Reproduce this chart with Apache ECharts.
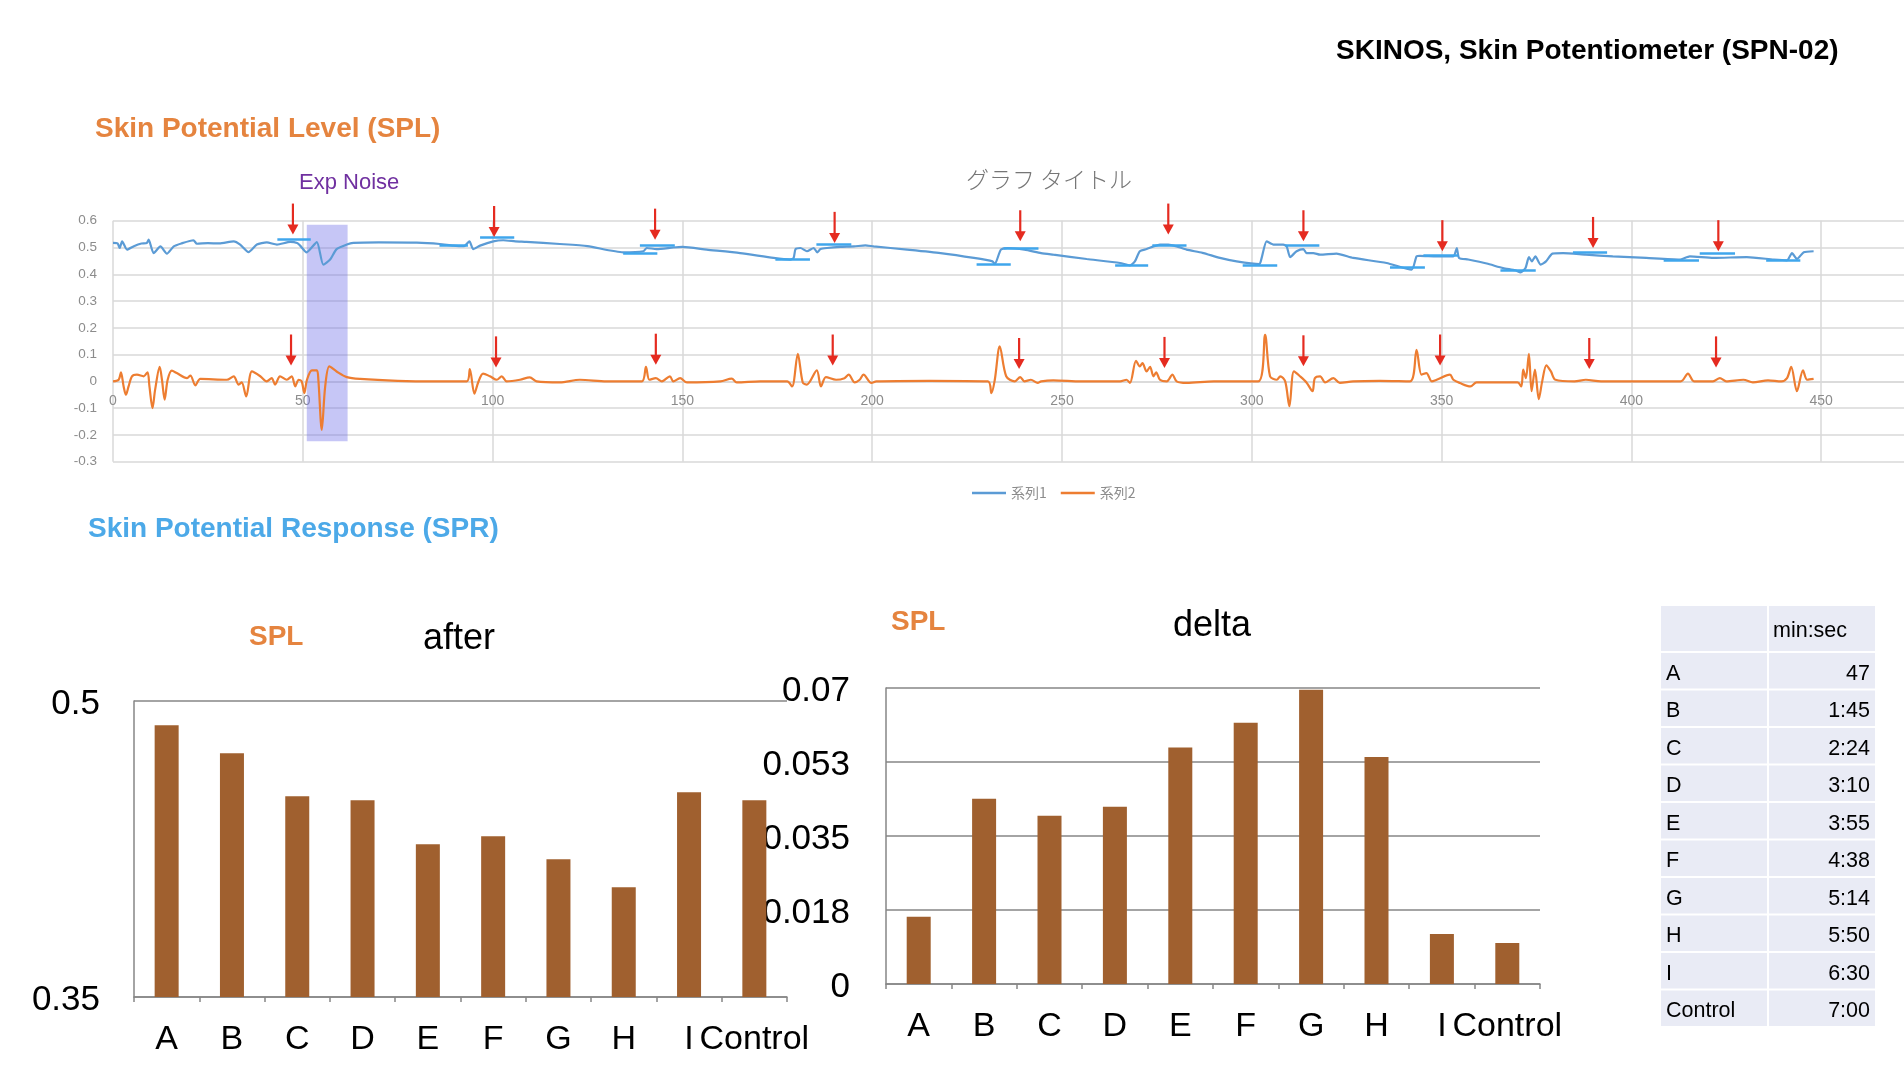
<!DOCTYPE html>
<html><head><meta charset="utf-8">
<script src="https://cdn.jsdelivr.net/npm/echarts@6/dist/echarts.min.js"></script>
<style>html,body{margin:0;padding:0;background:#fff}#c{width:1904px;height:1066px}</style>
</head><body><div id="c"></div>
<script>
// ---- Line chart data: [seconds, value] ----
const splSeries = [[0,0.517],[1.2,0.515],[1.75,0.498],[2.4,0.523],[3.7,0.492],[5.5,0.505],[7.5,0.515],[8.9,0.517],[9.4,0.529],[10.7,0.479],[12.5,0.504],[14.2,0.477],[16,0.504],[18,0.515],[21.2,0.527],[22.1,0.514],[25,0.516],[28,0.515],[31.8,0.523],[33.5,0.511],[35.7,0.483],[37.9,0.511],[40.5,0.519],[43.2,0.511],[46.7,0.521],[48.5,0.517],[49.3,0.507],[51,0.482],[53.7,0.52],[55.4,0.436],[57.2,0.455],[58.9,0.494],[61.6,0.511],[63.3,0.517],[70,0.519],[80,0.518],[86.1,0.513],[89.6,0.507],[92.5,0.505],[93.9,0.523],[94.9,0.494],[96.7,0.507],[100.2,0.523],[102.8,0.527],[106,0.523],[108.9,0.521],[117.7,0.513],
[125,0.505],[134.4,0.482],[139.7,0.486],[140.6,0.498],[143.2,0.494],[147.6,0.5],[150,0.502],[156.4,0.492],[165.2,0.479],[174,0.461],[178.4,0.455],[179.3,0.461],[179.8,0.494],[181.1,0.498],[182.8,0.486],[184.6,0.498],[185.5,0.482],[186.4,0.494],[188.1,0.498],[191.6,0.502],[195.2,0.504],[198.2,0.508],[200.4,0.504],[209.2,0.492],[218,0.479],[226.8,0.461],[231.7,0.448],[232.3,0.438],[233.9,0.492],[235.7,0.498],[240.1,0.492],[244.5,0.479],
[247.7,0.473],[256.5,0.457],[265.3,0.442],[267.9,0.433],[269.2,0.448],[270.5,0.486],[272.3,0.494],[274.1,0.504],[275.8,0.511],[278,0.511],[280.2,0.504],[282.8,0.492],[287,0.48],[291.6,0.461],[296,0.448],[302,0.438],[302.6,0.461],[303.9,0.523],[305.7,0.511],[308.3,0.511],[309.2,0.504],[310.1,0.464],[311.8,0.486],[313.6,0.494],[314.4,0.479],[316.2,0.479],[318,0.473],[322.3,0.477],[326.7,0.461],[335.5,0.442],[342.1,0.417],[343.4,0.467],[344.3,0.469],[348.7,0.467],[353.1,0.467],[354,0.498],[354.6,0.461],[357,0.455],[361.9,0.44],[366.2,0.423],
[369.4,0.415],[370.8,0.407],[372.1,0.423],[373,0.464],[373.8,0.448],[374.7,0.467],[376.1,0.436],[377.5,0.448],[379.2,0.477],[382,0.479],[388,0.473],[395.1,0.467],[403.9,0.461],[412.7,0.455],[415.4,0.467],[421.6,0.461],[430.4,0.464],[437.5,0.455],[441,0.452],[442.3,0.479],[443.6,0.457],[445.4,0.482],[448,0.486]];

const sprSeries = [[0,0],[1.5,0.006],[2.1,0.034],[2.8,-0.019],[3.4,-0.05],[4.1,-0.019],[5,0.019],[6.3,0.025],[8.1,0.019],[9.1,0.034],[9.6,-0.019],[10.4,-0.1],[11.1,-0.031],[12.3,0.054],[12.9,0.006],[13.6,-0.068],[14.4,0.006],[15.5,0.04],[16.8,0.031],[19.5,0.012],[20.4,0.022],[21.7,-0.015],[23,0.009],[30,0.006],[31.8,0.019],[33.1,-0.012],[33.9,-0.004],[35.1,-0.056],[36.6,0.037],[38.8,0.019],[40.5,0],[41.8,0.012],[42.7,-0.012],[44,0.019],[45.8,0.006],[47.1,0.019],[48,-0.019],[48.9,0.006],[49.7,0],[50.4,-0.044],[51.1,0.006],[52.4,0.041],[53.7,0.041],[54.1,0.006],[55,-0.181],[55.9,-0.019],[57,0.056],[58.9,0.037],[61.6,0.016],[65.1,0.009],[75,0.002],[85,0],[93.2,0],[94,0.046],[95.2,-0.046],[96.2,-0.004],[97.5,0.029],[99.3,0.019],[101.1,0.006],[102.4,0.019],[103.7,0],[107.2,0.006],[109.8,0.015],[111.6,0],[117.7,-0.004],
[123,0.006],[130,0],[139.3,0],[140.4,0.054],[141.3,0.006],[143,0.012],[144.6,0],[146.7,0.019],[147.6,0],[149.4,0.012],[151.2,-0.004],[160,0],[163,0.01],[164.3,-0.004],[170.5,0],[177.6,0],[178.9,-0.019],[180.4,0.103],[181.7,-0.004],[182.8,-0.012],[185.4,0.041],[186.5,-0.019],[187.8,0.016],[190.5,0.006],[192.7,0.012],[193.8,0.025],[195.4,-0.004],[196.7,0.006],[197.7,0.025],[199.8,-0.006],[201.1,0],[215,0.002],[230.5,0],[231.4,-0.044],[232.3,0.006],[233.6,0.131],[235.3,0.019],[237.5,0],[239,0.016],[240.1,0],[241.8,0.006],[243.6,-0.006],[244.5,0],
[247.7,0.004],[255,0],[265.3,0],[267,0.006],[267.9,-0.006],[269.5,0.077],[270.5,0.056],[271.2,0.068],[272.3,0.037],[273.2,0.054],[274.1,0.019],[274.8,0.034],[275.8,0.006],[277.6,0],[279.1,0.025],[280.2,0],[282.8,-0.006],[290,0],[301.7,0],[303.5,0.174],[304.8,0.019],[306.6,0.006],[307.5,0.019],[308.8,0],[309.9,-0.093],[311.1,0.037],[312.7,0.019],[314.4,-0.004],[316,-0.037],[316.6,0.012],[318,0.019],[319.3,-0.004],[321.5,0.012],[323.2,-0.006],[326.7,0],[333.7,0.002],[341.7,0],[343.4,0.118],[344.7,0.025],[346,0.031],[347.4,0],[348.7,0.006],[352.2,0.025],[353.1,0.006],[354.8,-0.006],[357.6,-0.019],[359.2,-0.004],
[370,-0.004],[371,-0.019],[371.5,0.044],[372.2,0.012],[373,0.103],[373.7,-0.037],[374.6,0.044],[375.6,-0.066],[376.5,0],[377.6,0.06],[378.8,0.037],[380,0.006],[385,0],[388,0.006],[392,0],[403.9,0],[413,0],[414.9,0.029],[416.5,0],[421.5,0],[423.3,0.012],[425,0],[429.5,0.006],[432,-0.004],[436,0.004],[439.5,0],[441,0.012],[442.1,0.054],[443.6,-0.037],[445.2,0.041],[446.3,0.006],[448,0.009]];

// annotation data (seconds / values)
const noiseBox = [51.05, 61.8, 0.585, -0.224];
const arrowTopT = [47.4,100.4,142.8,190.1,239,278,313.6,350.2,389.9,422.9];
const arrowTopTip = [0.548,0.539,0.529,0.517,0.523,0.548,0.523,0.486,0.498,0.486];
const arrowBotT = [46.9,100.9,143,189.6,238.7,277,313.6,349.6,388.9,422.3];
const arrowBotTip = [0.059,0.052,0.062,0.059,0.046,0.050,0.056,0.059,0.046,0.052];
const arrowLen = 0.116;
const levelSegments = [[43.3,52.1,0.529],[86,93.5,0.508],[96.7,105.7,0.538],[134.4,143.4,0.479],[138.8,148,0.508],[174.5,183.6,0.456],[185.3,194.5,0.513],[227.5,236.5,0.436],[234.6,243.8,0.498],[264,272.7,0.433],[273.8,282.8,0.509],[297.6,306.7,0.433],[308.8,317.8,0.508],[336.4,345.6,0.426],[345.2,354.4,0.471],[365.5,374.8,0.415],[384.6,393.6,0.482],[408.5,417.8,0.452],[418,427.3,0.479],[435.5,444.5,0.452]];

// ---- Bar charts ----
const barCategories = ['A','B','C','D','E','F','G','H','I','Control'];
const afterValues = [0.4877,0.4735,0.4517,0.4497,0.4274,0.4314,0.4198,0.4056,0.4537,0.4497];
const deltaValues = [0.0159,0.0438,0.0398,0.0419,0.0559,0.0618,0.0696,0.0537,0.0118,0.0097];

// ---- Table ----
const tableHeader = 'min:sec';
const tableLabels = ['A','B','C','D','E','F','G','H','I','Control'];
const tableTimes = ['47','1:45','2:24','3:10','3:55','4:38','5:14','5:50','6:30','7:00'];

const ARIAL = '"Liberation Sans", Arial, Helvetica, sans-serif';
const JP = '"Noto Sans CJK JP", sans-serif';
const arrowColor = '#E52B20';

const lineYMin = -0.3, lineYMax = 0.6, lineGridHeight = 241;

const arrowData = [];
arrowTopT.forEach((t,i)=>arrowData.push([t, arrowTopTip[i]]));
arrowBotT.forEach((t,i)=>arrowData.push([t, arrowBotTip[i]]));
const segLines = levelSegments.map(s => [{coord:[s[0], s[2]]},{coord:[s[1], s[2]]}]);

const tableData = [];
for (let r = 0; r <= tableLabels.length; r++) for (let c = 0; c < 2; c++) tableData.push([c, r]);

const chart = echarts.init(document.getElementById('c'), null, {renderer:'canvas'});
const gray = '#868686';
const barXAxis = (gi) => ({gridIndex:gi, type:'category', data:barCategories,
  axisLine:{lineStyle:{color:gray,width:1.5}}, axisTick:{show:true,length:5,lineStyle:{color:gray,width:1.5}},
  axisLabel:{interval:0, hideOverlap:false, color:'#000', fontSize:34, fontFamily:ARIAL, margin:26}});

chart.setOption({
  animation:false,
  backgroundColor:'#fff',
  title:[
    {text:'SKINOS, Skin Potentiometer (SPN-02)', left:1336, top:37, padding:0, textStyle:{fontSize:28,fontWeight:'bold',color:'#000',fontFamily:ARIAL}},
    {text:'Skin Potential Level (SPL)', left:95, top:115, padding:0, textStyle:{fontSize:28,fontWeight:'bold',color:'#E5843F',fontFamily:ARIAL}},
    {text:'Exp Noise', left:299, top:172, padding:0, textStyle:{fontSize:22,fontWeight:'normal',color:'#7030A0',fontFamily:ARIAL}},
    {text:'グラフ タイトル', left:966, top:168, padding:0, textStyle:{fontSize:23,fontWeight:300,color:'#767676',fontFamily:JP}},
    {text:'Skin Potential Response (SPR)', left:88, top:515, padding:0, textStyle:{fontSize:28,fontWeight:'bold',color:'#4CA9E8',fontFamily:ARIAL}},
    {text:'SPL', left:249, top:623, padding:0, textStyle:{fontSize:28,fontWeight:'bold',color:'#E5843F',fontFamily:ARIAL}},
    {text:'after', left:423, top:621, padding:0, textStyle:{fontSize:36,fontWeight:'normal',color:'#000',fontFamily:ARIAL}},
    {text:'SPL', left:891, top:608, padding:0, textStyle:{fontSize:28,fontWeight:'bold',color:'#E5843F',fontFamily:ARIAL}},
    {text:'delta', left:1173, top:608, padding:0, textStyle:{fontSize:36,fontWeight:'normal',color:'#000',fontFamily:ARIAL}}
  ],
  legend:{data:['系列1','系列2'], left:972, top:486, icon:'rect', itemWidth:34, itemHeight:2.5, itemGap:14, padding:0,
    textStyle:{color:'#8C8C8C', fontSize:14, fontFamily:JP}},
  grid:[
    {left:113, top:220.7, width:1898, height:lineGridHeight, outerBoundsMode:'none', containLabel:false},
    {left:134, top:701, width:653, height:296, outerBoundsMode:'none', containLabel:false},
    {left:886, top:688, width:654, height:296, outerBoundsMode:'none', containLabel:false},
    {left:1660, top:605, width:216, height:422, outerBoundsMode:'none', containLabel:false}
  ],
  xAxis:[
    {gridIndex:0, type:'value', min:0, max:500, interval:50, position:'bottom',
      offset: -lineGridHeight * (0 - lineYMin) / (lineYMax - lineYMin),
      axisLine:{onZero:false, lineStyle:{color:'#D9D9D9', width:1.5}}, axisTick:{show:false},
      splitLine:{show:true, lineStyle:{color:'#D9D9D9', width:1.5}},
      axisLabel:{color:'#8C8C8C', fontSize:14, fontFamily:ARIAL, margin:13}},
    barXAxis(1),
    barXAxis(2),
    {gridIndex:3, type:'category', data:['label','time'], show:false}
  ],
  yAxis:[
    {gridIndex:0, type:'value', min:lineYMin, max:lineYMax, interval:0.1,
      axisLine:{show:false, onZero:false}, axisTick:{show:false},
      splitLine:{show:true, lineStyle:{color:'#D9D9D9', width:1.5}},
      axisLabel:{color:'#8C8C8C', fontSize:13.5, fontFamily:ARIAL, margin:16}},
    {gridIndex:1, type:'value', min:0.35, max:0.5, interval:0.15,
      axisLine:{show:true, onZero:false, lineStyle:{color:gray, width:1.5}}, axisTick:{show:false},
      splitLine:{show:true, lineStyle:{color:gray, width:1.5}},
      axisLabel:{color:'#000', fontSize:35, fontFamily:ARIAL, margin:34, verticalAlign:'top', lineHeight:7}},
    {gridIndex:2, type:'value', min:0, max:0.07, interval:0.0175,
      axisLine:{show:true, onZero:false, lineStyle:{color:gray, width:1.5}}, axisTick:{show:false},
      splitLine:{show:true, lineStyle:{color:gray, width:1.5}},
      axisLabel:{color:'#000', fontSize:35, fontFamily:ARIAL, margin:36, verticalAlign:'top', lineHeight:6,
        formatter:(v)=>String(Math.round(v*1000+1e-6)/1000)}},
    {gridIndex:3, type:'value', min:0, max:11.25, inverse:true, show:false}
  ],
  series:[
    {name:'系列1', type:'line', xAxisIndex:0, yAxisIndex:0, data:splSeries, showSymbol:false, symbol:'none',
      smooth:0.2, lineStyle:{color:'#5B9BD5', width:2.2}, itemStyle:{color:'#5B9BD5'}, z:2},
    {name:'系列2', type:'line', xAxisIndex:0, yAxisIndex:0, data:sprSeries, showSymbol:false, symbol:'none',
      smooth:0.3, lineStyle:{color:'#ED7D31', width:2.2}, itemStyle:{color:'#ED7D31'}, z:2},
    {name:'levels', type:'scatter', xAxisIndex:0, yAxisIndex:0, data:[], z:4, silent:true,
      markLine:{silent:true, symbol:'none', label:{show:false}, lineStyle:{color:'#3FA6EC', width:2.5, type:'solid'}, data:segLines}},
    {name:'arrows', type:'custom', xAxisIndex:0, yAxisIndex:0, data:arrowData, z:5, silent:true, clip:false,
      encode:{x:0, y:1},
      renderItem:function(params, api){
        const t = api.value(0), tip = api.value(1);
        const p = api.coord([t, tip]);
        const q = api.coord([t, tip + arrowLen]);
        return {type:'group', children:[
          {type:'line', shape:{x1:q[0], y1:q[1], x2:p[0], y2:p[1]-8}, style:{stroke:arrowColor, lineWidth:2.2}},
          {type:'polygon', shape:{points:[[p[0], p[1]], [p[0]-5.5, p[1]-10], [p[0]+5.5, p[1]-10]]}, style:{fill:arrowColor}}
        ]};
      }},
    {name:'noise', type:'scatter', xAxisIndex:0, yAxisIndex:0, data:[], z:6, silent:true,
      markArea:{silent:true, itemStyle:{color:'rgba(112,112,232,0.4)'}, label:{show:false},
        data:[[{coord:[noiseBox[0], noiseBox[2]]},{coord:[noiseBox[1], noiseBox[3]]}]]}},
    {name:'after', type:'bar', xAxisIndex:1, yAxisIndex:1, data:afterValues, barWidth:24, itemStyle:{color:'#A0602F'}},
    {name:'delta', type:'bar', xAxisIndex:2, yAxisIndex:2, data:deltaValues, barWidth:24, itemStyle:{color:'#A0602F'}},
    {name:'table', type:'custom', xAxisIndex:3, yAxisIndex:3, data:tableData, clip:false, silent:true,
      encode:{x:0, y:1},
      renderItem:function(params, api){
        const c = api.value(0), r = api.value(1);
        const bw = api.size([1,0])[0];
        const cx = api.coord([c, 0])[0];
        const yTop = api.coord([c, r===0 ? 0 : r+0.25])[1];
        const yBot = api.coord([c, r===0 ? 1.25 : r+1.25])[1];
        const x0 = cx - bw/2 + 1, x1 = cx + bw/2 - 1, y0 = yTop + 1, y1 = yBot - 1;
        const txt = r===0 ? (c===1 ? tableHeader : '') : (c===0 ? tableLabels[r-1] : tableTimes[r-1]);
        const right = (c===1 && r>0);
        return {type:'group', children:[
          {type:'rect', shape:{x:x0, y:y0, width:x1-x0, height:y1-y0}, style:{fill:'#E9EBF5'}},
          {type:'text', style:{text:txt, x: right ? x1-5 : x0+(r===0?4:5), y:(y0+y1)/2 + 3, align: right?'right':'left', verticalAlign:'middle', fill:'#000', font:'21.5px "Liberation Sans", Arial, sans-serif'}}
        ]};
      }}
  ]
});
</script></body></html>
